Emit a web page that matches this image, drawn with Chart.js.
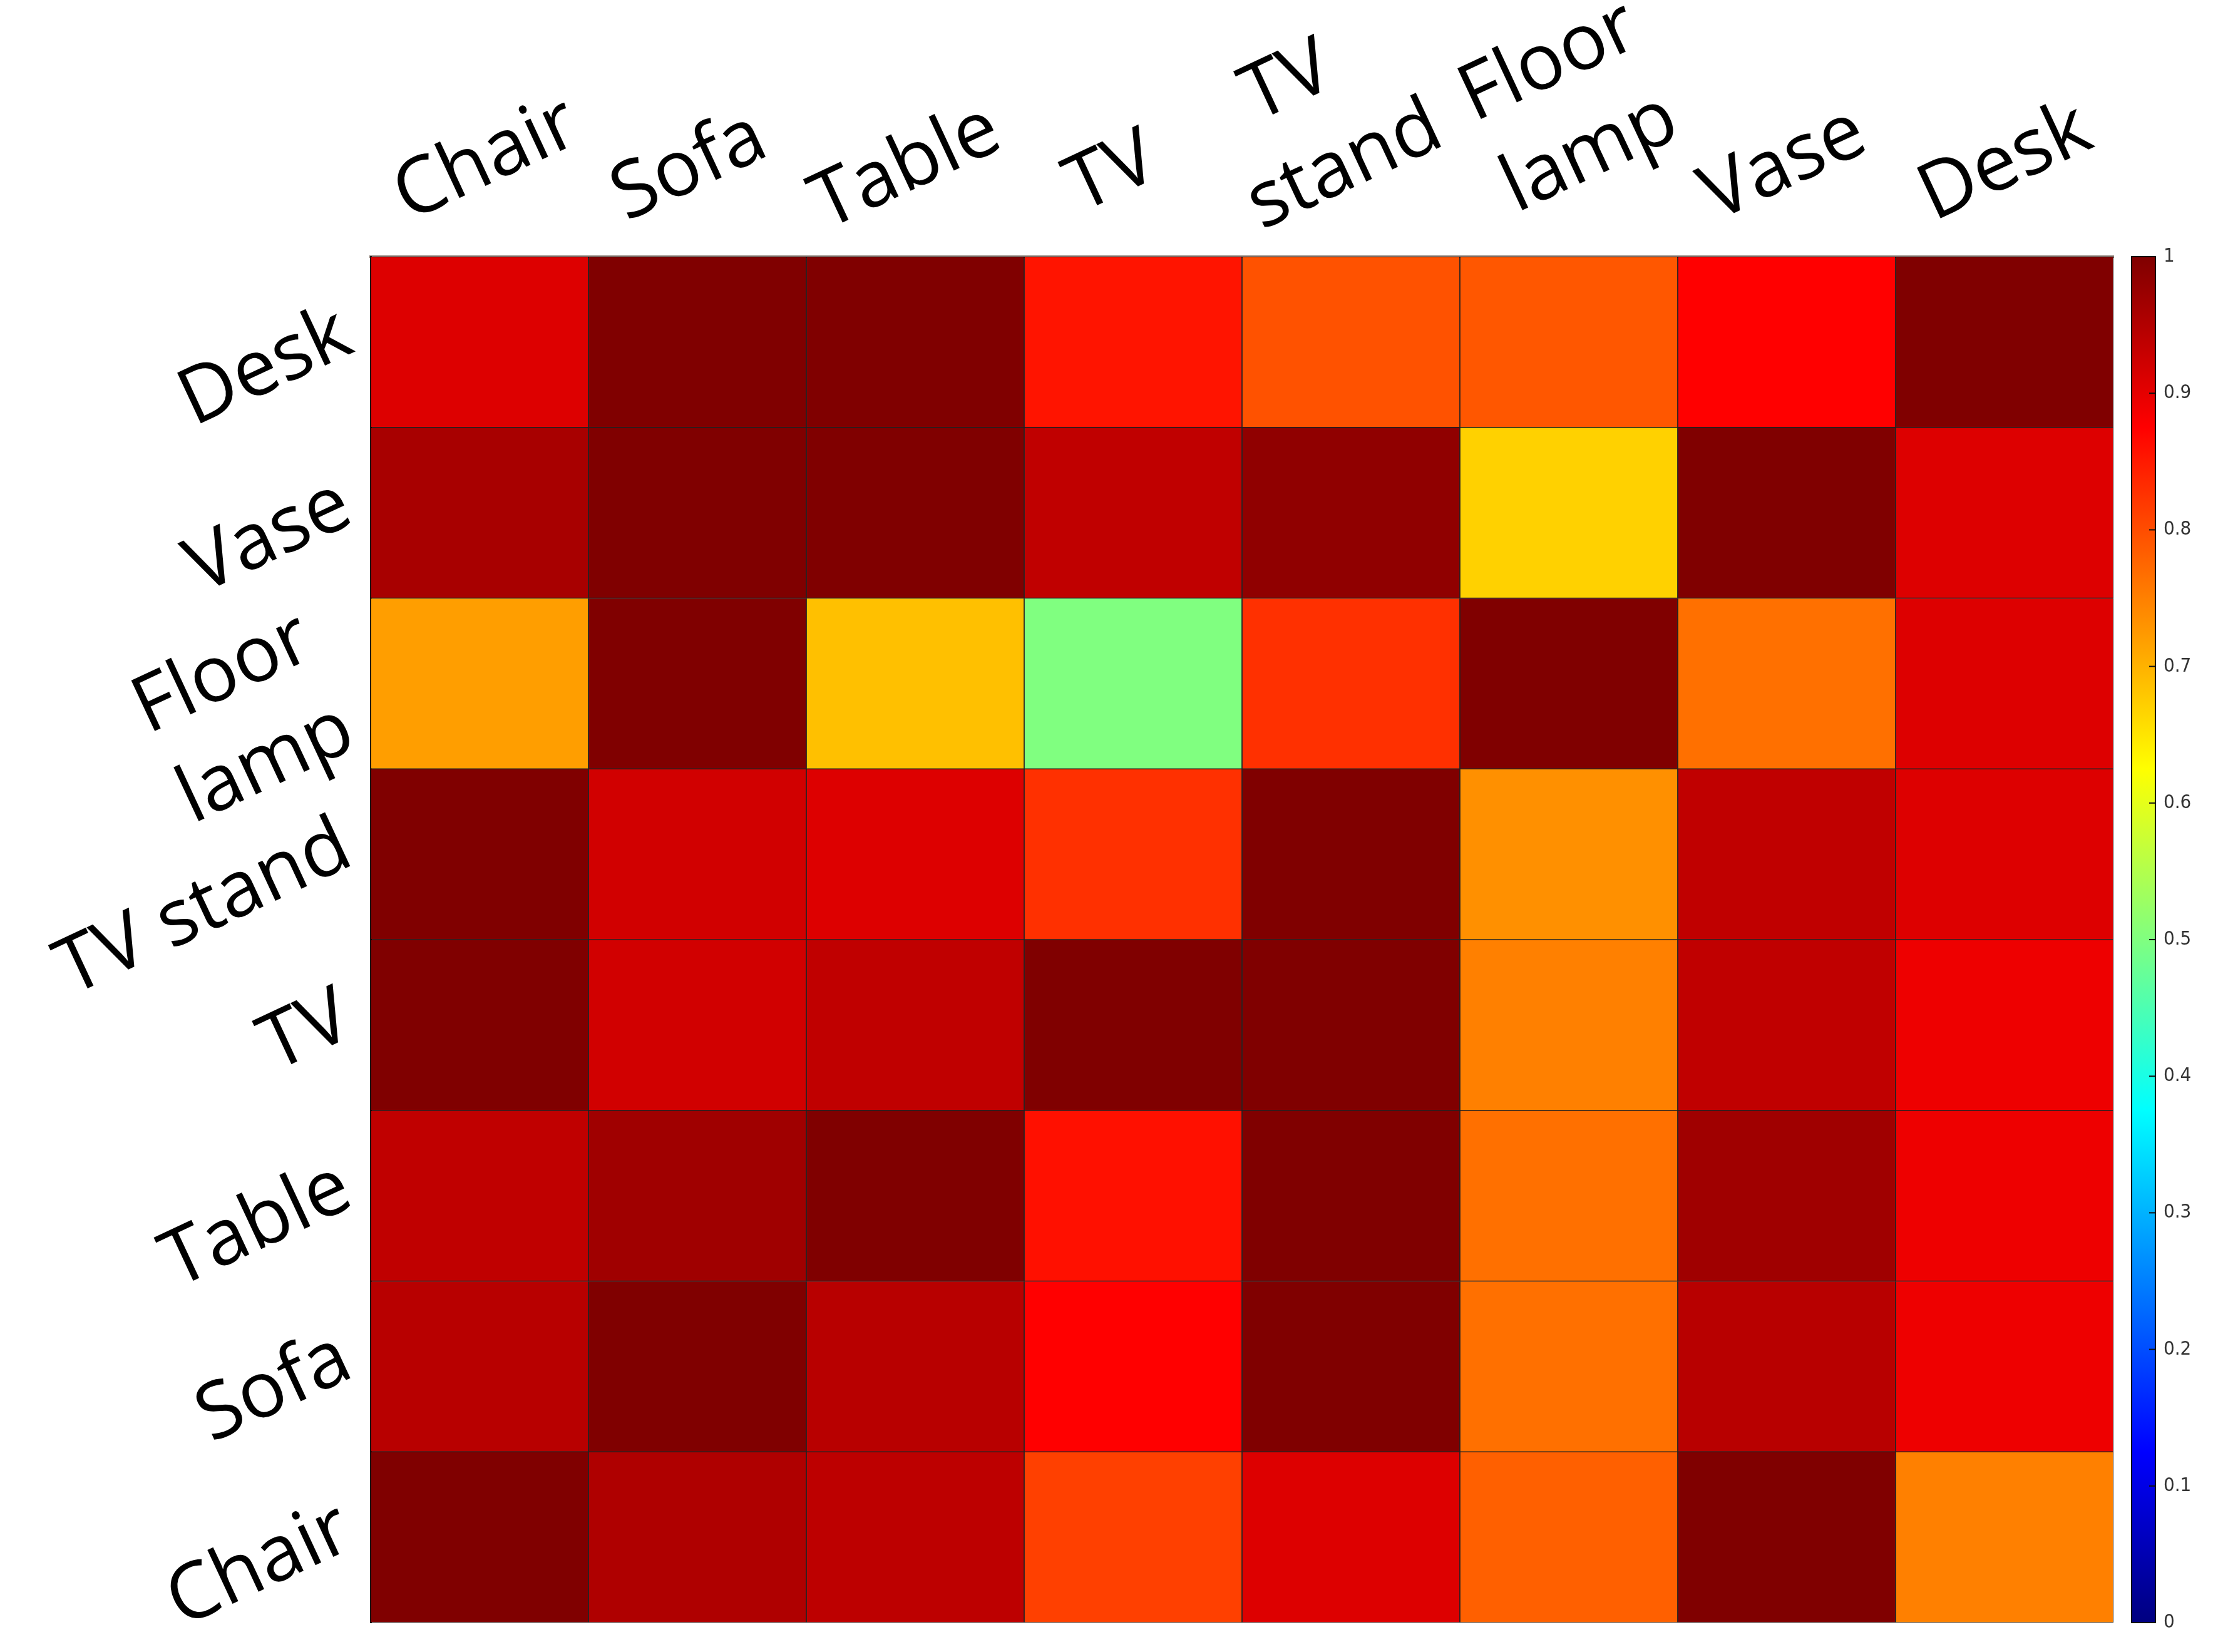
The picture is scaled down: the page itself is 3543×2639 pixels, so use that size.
<!DOCTYPE html>
<html>
<head>
<meta charset="utf-8">
<script src="https://cdn.jsdelivr.net/npm/chart.js@4.4.1/dist/chart.umd.min.js"></script>
<style>
  body { margin: 0; background: #fff; }
  canvas { display: block; }
</style>
</head>
<body>
<canvas id="heat" width="3543" height="2639"></canvas>
<script>
// 열(columns) 라벨 — 위쪽 축 (앞 공백은 원본처럼 라벨을 열 가운데로 맞추기 위함)
const colLabels = [' Chair', ' Sofa', 'Table', '  TV', ['  TV', 'stand'], ['  Floor', '  lamp'], ' Vase', ' Desk'];
// 행(rows) 라벨 — 아래에서 위로 (뒤 공백은 두 줄 라벨이 그림에 닿지 않게 하기 위함)
const rowLabels = ['Chair', 'Sofa', 'Table', 'TV', 'TV stand', ['Floor ', 'lamp '], 'Vase', 'Desk'];

// 각 행의 값 (열 순서: Chair, Sofa, Table, TV, TV stand, Floor lamp, Vase, Desk)
const rowChair     = [1.00, 0.953, 0.940, 0.812, 0.908, 0.781, 1.00, 0.750];
const rowSofa      = [0.945, 1.00, 0.945, 0.875, 1.00, 0.765, 0.945, 0.892];
const rowTable     = [0.937, 0.968, 1.00, 0.859, 1.00, 0.765, 0.968, 0.892];
const rowTV        = [1.00, 0.920, 0.937, 1.00, 1.00, 0.750, 0.937, 0.892];
const rowTVStand   = [1.00, 0.920, 0.908, 0.828, 1.00, 0.734, 0.937, 0.908];
const rowFloorLamp = [0.720, 1.00, 0.687, 0.500, 0.828, 1.00, 0.765, 0.908];
const rowVase      = [0.960, 1.00, 1.00, 0.937, 0.984, 0.670, 1.00, 0.908];
const rowDesk      = [0.908, 1.00, 1.00, 0.855, 0.795, 0.790, 0.875, 1.00];

const rows = [rowChair, rowSofa, rowTable, rowTV, rowTVStand, rowFloorLamp, rowVase, rowDesk];

// 컬러바 눈금
const cbTicks = [0, 0.1, 0.2, 0.3, 0.4, 0.5, 0.6, 0.7, 0.8, 0.9, 1];

// MATLAB jet 컬러맵
function jet(v) {
    const c = x => Math.round(255 * Math.max(0, Math.min(1, x)));
    const r = c(1.5 - Math.abs(4 * v - 3));
    const g = c(1.5 - Math.abs(4 * v - 2));
    const b = c(1.5 - Math.abs(4 * v - 1));
    return `rgb(${r},${g},${b})`;
}

const LABEL_FONT = { family: "'Open Sans', 'DejaVu Sans', sans-serif", size: 125, lineHeight: 1.28 };

// 행마다 하나의 데이터셋 (떠 있는 막대로 셀을 그림)
const datasets = rows.map((vals, i) => ({
    label: rowLabels[i].toString(),
    data: vals.map(() => [i, i + 1]),
    backgroundColor: vals.map(v => jet(v)),
    borderColor: 'rgba(0,0,0,0.85)',
    borderWidth: 1.2,
    borderSkipped: false,
    barPercentage: 1,
    categoryPercentage: 1,
    grouped: false
}));

// 컬러바 그리기
const colorbarPlugin = {
    id: 'colorbar',
    afterDraw(chart) {
        const s = chart.scales.cb;
        const ctx = chart.ctx;
        const x0 = s.left + 29, w = 38;
        const top = s.getPixelForValue(1), bot = s.getPixelForValue(0);
        const grad = ctx.createLinearGradient(0, bot, 0, top);
        for (let k = 0; k <= 64; k++) grad.addColorStop(k / 64, jet(k / 64));
        ctx.save();
        ctx.fillStyle = grad;
        ctx.fillRect(x0, top, w, bot - top);
        ctx.strokeStyle = '#111';
        ctx.lineWidth = 2;
        ctx.strokeRect(x0, top, w, bot - top);
        cbTicks.slice(1, -1).forEach(t => {
            const y = s.getPixelForValue(t);
            ctx.beginPath();
            ctx.moveTo(x0 + w - 10, y);
            ctx.lineTo(x0 + w, y);
            ctx.stroke();
        });
        ctx.restore();
    }
};

// 세로축의 자동 여백을 없애서 그림 영역을 고정
function noVerticalPadding(s) {
    s.paddingTop = 0;
    s.paddingBottom = 0;
}

new Chart(document.getElementById('heat'), {
    type: 'bar',
    data: { labels: colLabels, datasets },
    plugins: [colorbarPlugin],
    options: {
        responsive: false,
        animation: false,
        layout: { padding: { top: 0, left: 0, right: 0, bottom: 47 } },
        plugins: { legend: { display: false }, tooltip: { enabled: false } },
        scales: {
            x: {
                position: 'top',
                offset: true,
                grid: { display: false },
                border: { display: true, color: '#8c8078', width: 4 },
                ticks: {
                    font: LABEL_FONT, color: '#000',
                    minRotation: 25, maxRotation: 25, autoSkip: false,
                    padding: -6, labelOffset: -90
                },
                afterFit: s => { s.height = 410; s.paddingLeft = 0; s.paddingRight = 0; }
            },
            y: {
                position: 'left',
                min: 0, max: 8,
                grid: { display: false },
                border: { display: true, color: '#222', width: 3 },
                afterBuildTicks: s => { s.ticks = rowLabels.map((_, i) => ({ value: i + 0.5 })); },
                ticks: {
                    font: LABEL_FONT, color: '#000',
                    minRotation: 25, maxRotation: 25, autoSkip: false,
                    padding: 30, labelOffset: -18,
                    callback: v => rowLabels[Math.floor(v)]
                },
                afterFit: s => { s.width = 592; noVerticalPadding(s); }
            },
            cb: {
                type: 'linear',
                position: 'right',
                min: 0, max: 1,
                grid: { display: false, drawTicks: false },
                border: { display: false },
                afterBuildTicks: s => { s.ticks = cbTicks.map(v => ({ value: v })); },
                ticks: {
                    font: { family: "'Liberation Sans Narrow', 'DejaVu Sans Condensed', 'Liberation Sans', sans-serif", size: 31 },
                    color: '#333',
                    padding: 80,
                    callback: v => String(Number(v.toFixed(1)))
                },
                afterFit: s => { s.width = 167; noVerticalPadding(s); }
            }
        }
    }
});
</script>
</body>
</html>
